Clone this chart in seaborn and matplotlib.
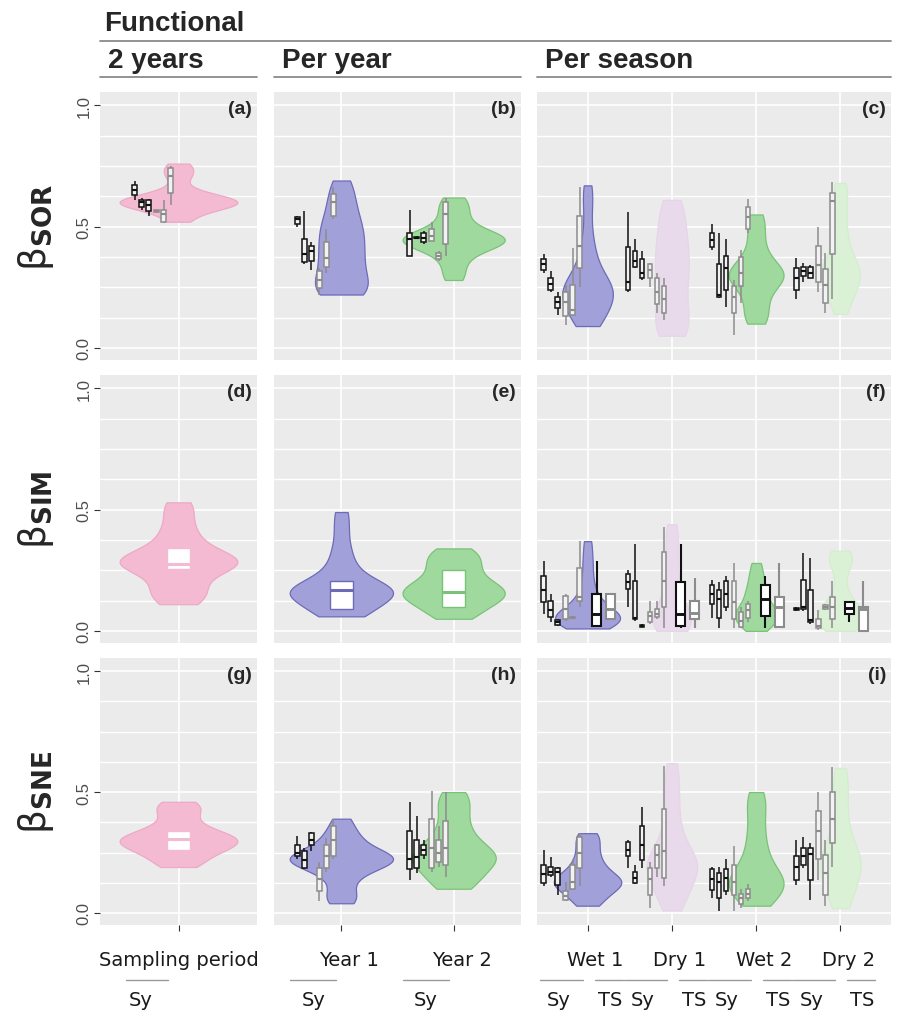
import numpy as np
import matplotlib.pyplot as plt
import seaborn as sns
from matplotlib.lines import Line2D
from matplotlib.transforms import blended_transform_factory

# categories
cats_2y = ["Sampling period"]
cats_year = ["Year 1", "Year 2"]
cats_season = ["Wet 1", "Dry 1", "Wet 2", "Dry 2"]

# violin samples per category (beta values)
sor_2y = [[0.52, 0.54, 0.56, 0.57, 0.58, 0.58, 0.59, 0.59, 0.60, 0.60, 0.60, 0.61, 0.61,
           0.62, 0.62, 0.63, 0.64, 0.66, 0.70, 0.72, 0.74, 0.76]]
sor_year = [[0.22, 0.22, 0.23, 0.24, 0.25, 0.27, 0.29, 0.31, 0.33, 0.35, 0.37, 0.39, 0.41,
             0.43, 0.45, 0.47, 0.49, 0.51, 0.53, 0.56, 0.59, 0.62, 0.66, 0.69],
            [0.28, 0.32, 0.36, 0.39, 0.41, 0.42, 0.43, 0.44, 0.44, 0.45, 0.45, 0.46, 0.47,
             0.48, 0.50, 0.53, 0.56, 0.59, 0.62]]
sor_season = [[0.09, 0.10, 0.11, 0.13, 0.15, 0.17, 0.18, 0.19, 0.20, 0.21, 0.22, 0.23, 0.24,
               0.25, 0.26, 0.27, 0.28, 0.30, 0.32, 0.35, 0.38, 0.42, 0.47, 0.55, 0.62, 0.67],
              [0.05, 0.06, 0.08, 0.11, 0.14, 0.17, 0.21, 0.25, 0.28, 0.31, 0.34, 0.37, 0.40,
               0.43, 0.46, 0.50, 0.54, 0.58, 0.61],
              [0.10, 0.12, 0.14, 0.17, 0.20, 0.23, 0.25, 0.27, 0.28, 0.29, 0.30, 0.30, 0.31,
               0.32, 0.33, 0.35, 0.37, 0.40, 0.44, 0.48, 0.52, 0.55],
              [0.14, 0.18, 0.21, 0.24, 0.26, 0.28, 0.29, 0.30, 0.31, 0.32, 0.34, 0.36, 0.39,
               0.43, 0.48, 0.54, 0.60, 0.65, 0.68]]

sim_2y = [[0.11, 0.13, 0.15, 0.17, 0.19, 0.22, 0.25, 0.26, 0.27, 0.28, 0.28, 0.29, 0.29,
           0.30, 0.31, 0.33, 0.35, 0.38, 0.41, 0.45, 0.50, 0.53]]
sim_year = [[0.06, 0.07, 0.08, 0.10, 0.12, 0.13, 0.14, 0.15, 0.16, 0.16, 0.17, 0.17, 0.18,
             0.19, 0.21, 0.23, 0.26, 0.30, 0.35, 0.42, 0.49],
            [0.05, 0.07, 0.09, 0.11, 0.12, 0.13, 0.14, 0.15, 0.16, 0.17, 0.18, 0.19, 0.20,
             0.22, 0.24, 0.26, 0.28, 0.30, 0.32, 0.34]]
sim_season = [[0.01, 0.02, 0.03, 0.03, 0.04, 0.04, 0.05, 0.05, 0.06, 0.06, 0.07, 0.08, 0.09,
               0.10, 0.12, 0.14, 0.17, 0.21, 0.26, 0.31, 0.37],
              [0.0, 0.01, 0.02, 0.03, 0.04, 0.05, 0.07, 0.09, 0.12, 0.16, 0.21, 0.27, 0.33,
               0.39, 0.44],
              [0.0, 0.02, 0.03, 0.04, 0.05, 0.06, 0.07, 0.08, 0.09, 0.10, 0.12, 0.14, 0.16,
               0.18, 0.21, 0.24, 0.28],
              [0.0, 0.01, 0.02, 0.03, 0.04, 0.05, 0.06, 0.07, 0.08, 0.09, 0.10, 0.12, 0.15,
               0.20, 0.26, 0.29, 0.30, 0.31, 0.33]]

sne_2y = [[0.19, 0.21, 0.23, 0.25, 0.26, 0.27, 0.28, 0.29, 0.30, 0.30, 0.31, 0.32, 0.33,
           0.34, 0.36, 0.39, 0.42, 0.44, 0.46]]
sne_year = [[0.04, 0.06, 0.09, 0.13, 0.16, 0.18, 0.19, 0.20, 0.21, 0.22, 0.22, 0.23, 0.23,
             0.24, 0.25, 0.26, 0.28, 0.30, 0.32, 0.35, 0.39],
            [0.10, 0.12, 0.14, 0.16, 0.18, 0.20, 0.21, 0.22, 0.23, 0.24, 0.25, 0.26, 0.28,
             0.30, 0.33, 0.36, 0.40, 0.44, 0.47, 0.50]]
sne_season = [[0.03, 0.05, 0.07, 0.09, 0.10, 0.11, 0.12, 0.13, 0.13, 0.14, 0.15, 0.16, 0.18,
               0.20, 0.22, 0.25, 0.28, 0.31, 0.33],
              [0.01, 0.04, 0.07, 0.10, 0.12, 0.14, 0.16, 0.18, 0.19, 0.20, 0.21, 0.22, 0.24,
               0.26, 0.29, 0.33, 0.38, 0.44, 0.50, 0.56, 0.62],
              [0.03, 0.05, 0.07, 0.09, 0.10, 0.11, 0.12, 0.13, 0.14, 0.15, 0.17, 0.19, 0.22,
               0.25, 0.29, 0.33, 0.38, 0.43, 0.47, 0.50],
              [0.02, 0.05, 0.08, 0.11, 0.14, 0.16, 0.18, 0.20, 0.21, 0.22, 0.24, 0.26, 0.29,
               0.33, 0.38, 0.44, 0.50, 0.55, 0.60]]

# small box plots: [min, q1, median, q3, max], 6 per category (3 black, 3 grey)
sor_2y_sy = [[[0.61, 0.63, 0.65, 0.67, 0.69], [0.57, 0.58, 0.60, 0.61, 0.62],
              [0.545, 0.565, 0.59, 0.61, 0.615], [0.56, 0.562, 0.565, 0.568, 0.57],
              [0.515, 0.52, 0.55, 0.57, 0.61], [0.59, 0.64, 0.71, 0.74, 0.75]]]
sor_year_sy = [[[0.50, 0.51, 0.53, 0.54, 0.545], [0.345, 0.355, 0.385, 0.45, 0.565],
                [0.32, 0.36, 0.40, 0.42, 0.435], [0.22, 0.245, 0.28, 0.315, 0.33],
                [0.31, 0.335, 0.37, 0.435, 0.49], [0.53, 0.545, 0.60, 0.635, 0.665]],
               [[0.38, 0.38, 0.45, 0.475, 0.57], [0.45, 0.452, 0.455, 0.458, 0.46],
                [0.43, 0.435, 0.455, 0.475, 0.48], [0.44, 0.44, 0.46, 0.49, 0.52],
                [0.36, 0.365, 0.38, 0.39, 0.40], [0.38, 0.43, 0.55, 0.60, 0.62]]]
sor_season_sy = [[[0.31, 0.32, 0.345, 0.365, 0.385], [0.23, 0.24, 0.265, 0.29, 0.315],
                  [0.135, 0.165, 0.19, 0.21, 0.23], [0.095, 0.13, 0.19, 0.23, 0.26],
                  [0.13, 0.135, 0.155, 0.26, 0.41], [0.25, 0.33, 0.42, 0.545, 0.665]],
                 [[0.23, 0.24, 0.27, 0.415, 0.56], [0.33, 0.335, 0.36, 0.40, 0.45],
                  [0.28, 0.29, 0.31, 0.365, 0.40], [0.25, 0.29, 0.32, 0.345, 0.35],
                  [0.145, 0.18, 0.23, 0.29, 0.31], [0.115, 0.145, 0.20, 0.255, 0.29]],
                 [[0.405, 0.415, 0.445, 0.475, 0.51], [0.205, 0.21, 0.22, 0.345, 0.475],
                  [0.17, 0.24, 0.33, 0.38, 0.45], [0.055, 0.145, 0.21, 0.255, 0.28],
                  [0.185, 0.255, 0.31, 0.375, 0.405], [0.475, 0.49, 0.54, 0.58, 0.615]],
                 [[0.20, 0.24, 0.29, 0.33, 0.37], [0.27, 0.295, 0.315, 0.335, 0.35],
                  [0.29, 0.29, 0.31, 0.335, 0.34], [0.23, 0.27, 0.34, 0.42, 0.50],
                  [0.145, 0.185, 0.26, 0.325, 0.39], [0.20, 0.385, 0.605, 0.64, 0.685]]]
sim_season_sy = [[[0.07, 0.12, 0.17, 0.225, 0.29], [0.035, 0.058, 0.085, 0.123, 0.15],
                  [0.02, 0.025, 0.035, 0.045, 0.05], [0.04, 0.05, 0.09, 0.145, 0.15],
                  [0.05, 0.052, 0.055, 0.058, 0.06], [0.10, 0.125, 0.14, 0.26, 0.37]],
                 [[0.10, 0.173, 0.20, 0.235, 0.25], [0.04, 0.05, 0.055, 0.205, 0.36],
                  [0.015, 0.018, 0.02, 0.025, 0.03], [0.03, 0.037, 0.06, 0.078, 0.125],
                  [0.05, 0.058, 0.07, 0.09, 0.125], [0.01, 0.10, 0.205, 0.325, 0.43]],
                 [[0.055, 0.11, 0.15, 0.19, 0.21], [0.01, 0.055, 0.13, 0.17, 0.20],
                  [0.08, 0.10, 0.15, 0.205, 0.225], [0.01, 0.05, 0.12, 0.205, 0.28],
                  [0.01, 0.016, 0.04, 0.078, 0.10], [0.035, 0.055, 0.085, 0.11, 0.125]],
                 [[0.08, 0.085, 0.09, 0.095, 0.10], [0.08, 0.09, 0.10, 0.21, 0.32],
                  [0.03, 0.035, 0.045, 0.17, 0.30], [0.005, 0.01, 0.02, 0.05, 0.085],
                  [0.085, 0.09, 0.10, 0.105, 0.11], [0.01, 0.05, 0.10, 0.14, 0.205]]]
# TS boxes (black, grey) per season
sim_season_ts = [[[0.015, 0.02, 0.07, 0.15, 0.29], [0.045, 0.05, 0.09, 0.15, 0.15]],
                 [[0.01, 0.02, 0.07, 0.20, 0.36], [0.01, 0.05, 0.075, 0.125, 0.22]],
                 [[0.01, 0.06, 0.13, 0.19, 0.225], [0.01, 0.016, 0.10, 0.14, 0.28]],
                 [[0.035, 0.07, 0.095, 0.12, 0.12], [0.0, 0.0, 0.09, 0.10, 0.205]]]
sne_year_sy = [[[0.225, 0.235, 0.25, 0.28, 0.32], [0.18, 0.185, 0.22, 0.255, 0.27],
                [0.255, 0.28, 0.30, 0.33, 0.335], [0.05, 0.09, 0.14, 0.185, 0.21],
                [0.17, 0.185, 0.235, 0.28, 0.31], [0.225, 0.235, 0.30, 0.36, 0.39]],
               [[0.135, 0.18, 0.225, 0.34, 0.46], [0.165, 0.185, 0.23, 0.30, 0.40],
                [0.225, 0.24, 0.26, 0.28, 0.30], [0.17, 0.185, 0.27, 0.39, 0.505],
                [0.19, 0.21, 0.25, 0.30, 0.36], [0.15, 0.20, 0.27, 0.38, 0.50]]]
sne_season_sy = [[[0.11, 0.125, 0.16, 0.20, 0.26], [0.15, 0.157, 0.17, 0.19, 0.23],
                  [0.075, 0.115, 0.17, 0.185, 0.19], [0.05, 0.055, 0.07, 0.09, 0.13],
                  [0.095, 0.10, 0.13, 0.20, 0.225], [0.11, 0.185, 0.25, 0.315, 0.33]],
                 [[0.185, 0.235, 0.26, 0.295, 0.30], [0.12, 0.125, 0.145, 0.17, 0.20],
                  [0.185, 0.22, 0.28, 0.36, 0.44], [0.02, 0.075, 0.14, 0.185, 0.21],
                  [0.15, 0.185, 0.24, 0.28, 0.285], [0.11, 0.145, 0.255, 0.43, 0.61]],
                 [[0.06, 0.095, 0.14, 0.18, 0.19], [0.01, 0.06, 0.13, 0.165, 0.19],
                  [0.075, 0.09, 0.145, 0.18, 0.225], [0.01, 0.075, 0.13, 0.20, 0.275],
                  [0.02, 0.035, 0.06, 0.08, 0.10], [0.05, 0.06, 0.08, 0.10, 0.12]],
                 [[0.115, 0.135, 0.19, 0.235, 0.30], [0.185, 0.20, 0.235, 0.27, 0.315],
                  [0.055, 0.135, 0.245, 0.27, 0.29], [0.135, 0.225, 0.34, 0.42, 0.50],
                  [0.03, 0.075, 0.165, 0.24, 0.30], [0.19, 0.29, 0.39, 0.50, 0.605]]]
# white centre boxes in (d), (e), (g)
sim_2y_mid = [[0.255, 0.255, 0.275, 0.34, 0.34]]
sim_year_mid = [[0.09, 0.09, 0.17, 0.205, 0.205], [0.10, 0.10, 0.16, 0.25, 0.25]]
sne_2y_mid = [[0.26, 0.26, 0.305, 0.34, 0.34]]

# ---- style ----
PINK, PINK_E = "#F3BAD1", "#EDA9C5"
BLUE, BLUE_E = "#A2A0D9", "#6D6AB8"
GREEN, GREEN_E = "#A0D99E", "#79C277"
LAV, LAV_E = "#E9DAEB", "#E6D5E8"
LGRN, LGRN_E = "#DAF1D6", "#D3EDCE"
col_colors = [[(PINK, PINK_E)],
              [(BLUE, BLUE_E), (GREEN, GREEN_E)],
              [(BLUE, BLUE_E), (LAV, LAV_E), (GREEN, GREEN_E), (LGRN, LGRN_E)]]

W, H = 897, 1012
col_px = [(100, 257), (274, 521), (537, 891)]
row_px = [(93, 361), (376, 644), (659, 926)]
sy_off = [-44, -37, -30, -22, -15, -8]
ts_off = [9, 23]

sns.set_theme(style="darkgrid")
plt.rcParams["font.family"] = ["DejaVu Sans"]
plt.rcParams["mathtext.fontset"] = "dejavusans"

fig = plt.figure(figsize=(W / 100, H / 100), dpi=100)
fig.patch.set_facecolor("white")


def draw_box(ax, pos, stats, width, edge, face, lw, med=None, medlw=None):
    sns.boxplot(x=np.full(len(stats), pos), y=stats, orient="x", native_scale=True,
                width=width, whis=(0, 100), color=face, linecolor=edge, linewidth=lw,
                saturation=1, showcaps=False, fliersize=0,
                medianprops=dict(color=med or edge, linewidth=medlw or lw * 1.4),
                ax=ax)


panels = [
    (0, 0, cats_2y, sor_2y, [0.90], sor_2y_sy, None, None, "(a)"),
    (0, 1, cats_year, sor_year, [0.47, 0.91], sor_year_sy, None, None, "(b)"),
    (0, 2, cats_season, sor_season, [0.60, 0.40, 0.65, 0.46], sor_season_sy, None, None, "(c)"),
    (1, 0, cats_2y, sim_2y, [0.90], None, None, sim_2y_mid, "(d)"),
    (1, 1, cats_year, sim_year, [0.92, 0.91], None, None, sim_year_mid, "(e)"),
    (1, 2, cats_season, sim_season, [0.77, 0.45, 0.50, 0.55], sim_season_sy, sim_season_ts, None, "(f)"),
    (2, 0, cats_2y, sne_2y, [0.90], None, None, sne_2y_mid, "(g)"),
    (2, 1, cats_year, sne_year, [0.92, 0.75], sne_year_sy, None, None, "(h)"),
    (2, 2, cats_season, sne_season, [0.80, 0.60, 0.65, 0.48], sne_season_sy, None, None, "(i)"),
]

for r, c, cats, viol, vw, sy, ts, mid, letter in panels:
    x0, x1 = col_px[c]
    y0, y1 = row_px[r]
    ax = fig.add_axes([x0 / W, 1 - y1 / H, (x1 - x0) / W, (y1 - y0) / H])
    ax.set_facecolor("#EBEBEB")
    n = len(cats)
    pos = np.arange(1, n + 1)
    ppu = (x1 - x0) / (n + 0.2)

    for i, p in enumerate(pos):
        face, edge = col_colors[c][i]
        vals = viol[i]
        sns.violinplot(x=np.full(len(vals), float(p)), y=vals, orient="x", native_scale=True,
                       width=vw[i], cut=0, inner=None, bw_adjust=0.7, color=face,
                       linecolor=edge, linewidth=0.9, saturation=1, ax=ax)
        if mid is not None:
            draw_box(ax, p, mid[i], 23 / ppu, face if c == 0 else edge, "white", 1.0,
                     med=face if c == 0 else edge, medlw=2.2)
        if sy is not None:
            for k, st in enumerate(sy[i]):
                ec = "#111111" if k < 3 else "#8C8C8C"
                draw_box(ax, p + sy_off[k] / ppu, st, 4.5 / ppu, ec, "#F2F2F2", 1.1)
        if ts is not None:
            for k, st in enumerate(ts[i]):
                ec = "#111111" if k == 0 else "#8C8C8C"
                draw_box(ax, p + ts_off[k] / ppu, st, 9 / ppu, ec, "white", 1.5)

    # axes cosmetics
    ax.set_xlim(0.4, n + 0.6)
    ax.set_ylim(-0.05, 1.055)
    ax.set_xticks(pos)
    ax.set_yticks([0, 0.5, 1.0])
    ax.set_yticks(np.arange(0, 1.01, 0.125), minor=True)
    ax.grid(True, which="major", color="white", lw=1.2)
    ax.grid(True, which="minor", axis="y", color="white", lw=1.0)
    ax.tick_params(which="minor", length=0)
    for s in ax.spines.values():
        s.set_visible(False)
    ax.set_xlabel("")
    ax.set_ylabel("")
    ax.tick_params(axis="x", labelbottom=False, bottom=(r == 2), length=4, width=0.8,
                   color="#333333")
    if c == 0:
        ax.set_yticklabels(["0.0", "0.5", "1.0"], rotation=90, va="center",
                           family="Liberation Sans", fontsize=12, color="#4D4D4D")
        ax.tick_params(axis="y", left=True, length=4, width=0.8, color="#333333", pad=2)
    else:
        ax.tick_params(axis="y", labelleft=False, left=False)

    ax.text(1 - 5 / (x1 - x0), 1 - 17 / (y1 - y0), letter, transform=ax.transAxes,
            ha="right", va="center", fontsize=14, fontweight="bold", family="Liberation Sans")

    # bottom row: category labels and Sy / TS brackets
    if r == 2:
        tr = blended_transform_factory(ax.transData, fig.transFigure)
        if c == 0:
            sy_line, sy_txt = (-53, -11), -50
        elif c == 1:
            sy_line, sy_txt = (-51, -5), -40
        else:
            sy_line, sy_txt = (-48, -5), -41
        for i, p in enumerate(pos):
            ax.text(p + (8 if c > 0 else 0) / ppu, 1 - 966 / H, cats[i], transform=tr,
                    ha="center", va="baseline", fontsize=14, color="#1a1a1a")
            ax.plot([p + sy_line[0] / ppu, p + sy_line[1] / ppu], [1 - 981 / H] * 2,
                    transform=tr, color="#9A9A9A", lw=1, clip_on=False)
            ax.text(p + sy_txt / ppu, 1 - 1006 / H, "Sy", transform=tr, ha="left",
                    va="baseline", fontsize=14, color="#1a1a1a")
            if c == 2:
                ax.plot([p + 7 / ppu, p + 35 / ppu], [1 - 981 / H] * 2, transform=tr,
                        color="#9A9A9A", lw=1, clip_on=False)
                ax.text(p + 10 / ppu, 1 - 1006 / H, "TS", transform=tr, ha="left",
                        va="baseline", fontsize=14, color="#1a1a1a")
        ax.set_xlim(0.4, n + 0.6)
        ax.set_ylim(-0.05, 1.055)

# y labels
for lab, (y0, y1) in zip(["SOR", "SIM", "SNE"], row_px):
    fig.text(36 / W, 1 - (y0 + y1) / 2 / H, r"$\mathrm{\beta}_{\mathbf{%s}}$" % lab,
             rotation=90, ha="center", va="center", fontsize=27)

# strip headers
hdr = dict(fontsize=20, fontweight="bold", family="Liberation Sans", va="baseline")
fig.text(104 / W, 1 - 31 / H, "Functional", **hdr)
fig.add_artist(Line2D([100 / W, 891 / W], [1 - 42 / H] * 2, color="#8A8A8A", lw=1.3,
                      transform=fig.transFigure))
for txt, (x0, x1) in zip(["2 years", "Per year", "Per season"], col_px):
    fig.text((x0 + 8) / W, 1 - 68 / H, txt, **hdr)
    fig.add_artist(Line2D([x0 / W, x1 / W], [1 - 78 / H] * 2, color="#8A8A8A", lw=1.3,
                          transform=fig.transFigure))

fig.savefig("out.png", dpi=100)
